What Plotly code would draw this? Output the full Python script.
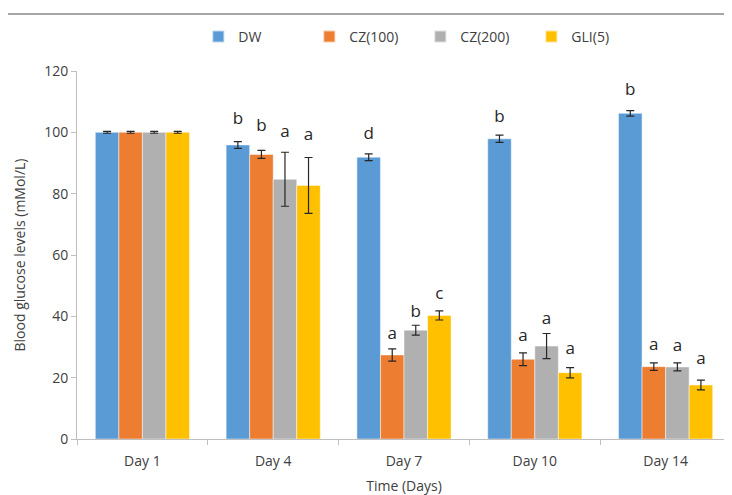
import plotly.graph_objects as go

days = ["Day 1", "Day 4", "Day 7", "Day 10", "Day 14"]
series_names = ["DW", "CZ(100)", "CZ(200)", "GLI(5)"]

dw = [100.0, 95.9, 91.9, 97.9, 106.2]
cz100 = [100.0, 92.8, 27.4, 26.0, 23.6]
cz200 = [100.0, 84.7, 35.5, 30.3, 23.5]
gli5 = [100.0, 82.7, 40.3, 21.6, 17.6]

dw_err = [0.3, 1.1, 1.1, 1.2, 0.9]
cz100_err = [0.3, 1.3, 2.0, 2.1, 1.2]
cz200_err = [0.3, 8.8, 1.6, 4.1, 1.3]
gli5_err = [0.3, 9.1, 1.5, 1.7, 1.6]

dw_letters = ["", "b", "d", "b", "b"]
cz100_letters = ["", "b", "a", "a", "a"]
cz200_letters = ["", "a", "b", "a", "a"]
gli5_letters = ["", "a", "c", "a", "a"]

dw_letter_y = [None, 104.0, 99.1, 104.8, 113.6]
cz100_letter_y = [None, 101.7, 33.9, 33.2, 30.4]
cz200_letter_y = [None, 99.8, 41.2, 38.8, 30.1]
gli5_letter_y = [None, 98.8, 46.9, 29.0, 25.8]

colors = ["#5B9BD5", "#ED7D31", "#B0B0B0", "#FFC000"]
values = [dw, cz100, cz200, gli5]
errors = [dw_err, cz100_err, cz200_err, gli5_err]
letters = [dw_letters, cz100_letters, cz200_letters, gli5_letters]
letter_ys = [dw_letter_y, cz100_letter_y, cz200_letter_y, gli5_letter_y]

FONT = "Open Sans"
TXT = "#404040"

fig = go.Figure()
for i, name in enumerate(series_names):
    fig.add_trace(go.Bar(
        x=days, y=values[i], name=name,
        marker=dict(color=colors[i], line=dict(color="rgba(255,255,255,0.6)", width=0.8)),
        error_y=dict(type="data", array=errors[i], visible=True,
                     color="#262626", thickness=1.2, width=4),
        offsetgroup=str(i), alignmentgroup="g",
    ))
for i, name in enumerate(series_names):
    fig.add_trace(go.Scatter(
        x=days, y=letter_ys[i], text=letters[i], mode="text",
        textfont=dict(family=FONT, size=17, color="#262626"),
        textposition="middle center",
        offsetgroup=str(i), alignmentgroup="g",
        showlegend=False, hoverinfo="skip", cliponaxis=False,
    ))

fig.update_layout(
    width=732, height=495,
    margin=dict(l=69, r=9, t=63, b=64, autoexpand=False),
    paper_bgcolor="white", plot_bgcolor="white",
    barmode="group", scattermode="group",
    bargap=0.28, bargroupgap=0.0, scattergap=0.28,
    font=dict(family=FONT, size=14, color=TXT),
    showlegend=True,
    legend=dict(orientation="h", x=0.525, xanchor="center",
                yref="container", y=1 - 29 / 495, yanchor="middle",
                font=dict(family=FONT, size=14, color=TXT),
                entrywidth=66, entrywidthmode="pixels",
                itemsizing="constant", bgcolor="rgba(0,0,0,0)"),
    xaxis=dict(
        type="category", showline=True, linecolor="#BFBFBF", linewidth=1,
        ticks="outside", tickson="boundaries", ticklen=5, tickcolor="#BFBFBF",
        showgrid=False, zeroline=False, automargin=False, ticklabelstandoff=9,
        tickfont=dict(family=FONT, size=14, color=TXT),
        title=dict(text="Time (Days)", font=dict(family=FONT, size=14, color=TXT), standoff=12),
    ),
    yaxis=dict(
        range=[0, 120], dtick=20, showline=True, linecolor="#BFBFBF", linewidth=1,
        ticks="outside", ticklen=5, tickcolor="#BFBFBF",
        showgrid=False, zeroline=False, automargin=False,
        tickfont=dict(family=FONT, size=14, color=TXT),
        title=dict(text="Blood glucose levels (mMol/L)", font=dict(family=FONT, size=14, color=TXT), standoff=15),
    ),
    shapes=[dict(type="line", xref="paper", yref="paper",
                 x0=-69 / 654, x1=(732 - 69) / 654, y0=(431 - 6) / 368, y1=(431 - 6) / 368,
                 line=dict(color="#A6A6A6", width=2))],
)

fig.write_html("out.html")
